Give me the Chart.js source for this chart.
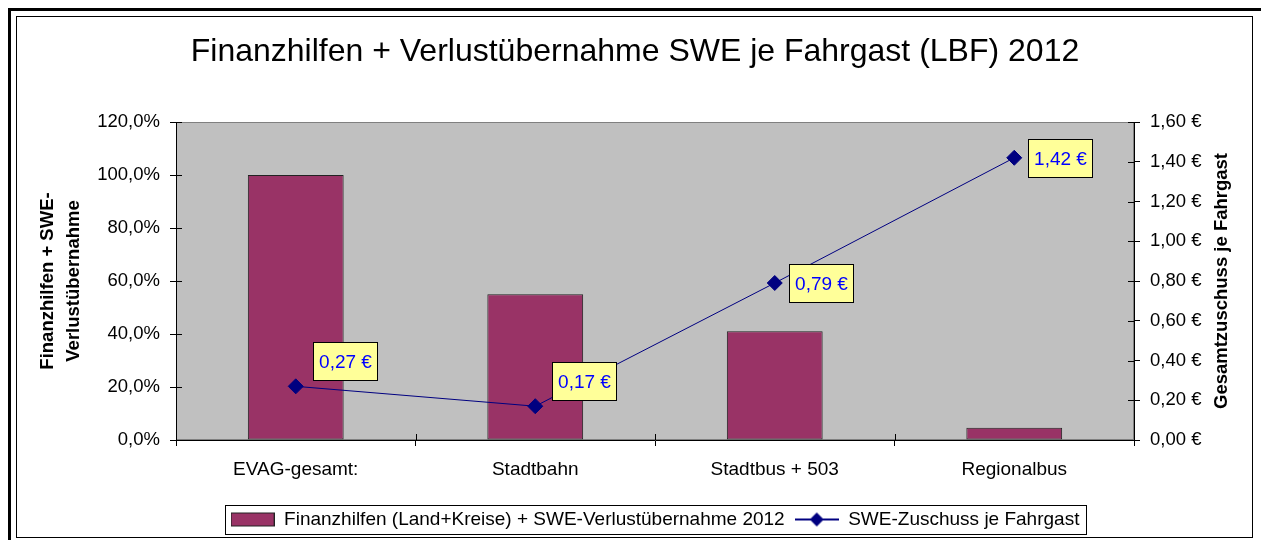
<!DOCTYPE html>
<html>
<head>
<meta charset="utf-8">
<script src="https://cdn.jsdelivr.net/npm/chart.js@4"></script>
<style>
html, body { margin: 0; padding: 0; background: #fff; }
#wrap { position: relative; width: 1261px; height: 540px; overflow: hidden; }
#chart { position: absolute; left: 0; top: 0; }
.frame-outer { position: absolute; left: 8px; top: 8px; width: 1300px; height: 600px; border-left: 3px solid #000; border-top: 3px solid #000; pointer-events: none; }
.frame-inner { position: absolute; left: 16px; top: 16px; width: 1235px; height: 520px; border: 1px solid #000; pointer-events: none; }
</style>
</head>
<body>
<div id="wrap">
    <canvas id="chart" width="1261" height="540"></canvas>
    <div class="frame-outer"></div>
    <div class="frame-inner"></div>
</div>
<script>
// --- data ---
const categories = ['EVAG-gesamt:', 'Stadtbahn', 'Stadtbus + 503', 'Regionalbus'];
const finanzhilfen = [100, 55, 41, 4.6];          // % (left axis)
const zuschuss = [0.27, 0.17, 0.79, 1.42];        // € je Fahrgast (right axis)

const FONT = '"Liberation Sans", Arial, sans-serif';
const barColor = '#993366';
const lineColor = '#000080';

const fmtPct = v => v.toFixed(1).replace('.', ',') + '%';
const fmtEuro = v => v.toFixed(2).replace('.', ',') + ' €';

// legend swatches
function barSwatch() {
    const c = document.createElement('canvas');
    c.width = 44; c.height = 16;
    const g = c.getContext('2d');
    g.fillStyle = barColor;
    g.fillRect(0.5, 1.5, 43, 13);
    g.strokeStyle = '#222';
    g.strokeRect(0.5, 1.5, 43, 13);
    return c;
}
function lineSwatch() {
    const c = document.createElement('canvas');
    c.width = 44; c.height = 16;
    const g = c.getContext('2d');
    g.strokeStyle = lineColor;
    g.lineWidth = 2;
    g.beginPath(); g.moveTo(0, 8); g.lineTo(44, 8); g.stroke();
    g.fillStyle = lineColor;
    g.beginPath(); g.moveTo(22, 1); g.lineTo(29, 8); g.lineTo(22, 15); g.lineTo(15, 8); g.closePath(); g.fill();
    return c;
}
const swatches = [barSwatch(), lineSwatch()];

// grey plot area + inner tick marks
const plotBackground = {
    id: 'plotBackground',
    beforeDraw(chart) {
        const { ctx, chartArea: a } = chart;
        ctx.save();
        ctx.fillStyle = '#c0c0c0';
        ctx.fillRect(a.left, a.top, a.width, a.height);
        ctx.strokeStyle = '#808080';
        ctx.lineWidth = 1;
        ctx.strokeRect(a.left + 0.5, a.top + 0.5, a.width - 1, a.height - 1);
        ctx.restore();
    },
    beforeDatasetsDraw(chart) {
        const { ctx, chartArea: a, scales } = chart;
        ctx.save();
        ctx.strokeStyle = '#000';
        ctx.lineWidth = 1;
        ctx.beginPath();
        scales.y.ticks.forEach((t, i) => {
            const y = Math.round(scales.y.getPixelForTick(i)) + 0.5;
            ctx.moveTo(a.left, y); ctx.lineTo(a.left + 6, y);
        });
        scales.y1.ticks.forEach((t, i) => {
            const y = Math.round(scales.y1.getPixelForTick(i)) + 0.5;
            ctx.moveTo(a.right - 6, y); ctx.lineTo(a.right, y);
        });
        for (let i = 1; i < categories.length; i++) {
            const x = Math.round((scales.x.getPixelForTick(i - 1) + scales.x.getPixelForTick(i)) / 2) + 0.5;
            ctx.moveTo(x, a.bottom - 6); ctx.lineTo(x, a.bottom);
        }
        ctx.stroke();
        ctx.restore();
    }
};

// yellow value boxes on the line
const labelPlacement = ['above', 'above', 'right', 'right'];
const valueBoxes = {
    id: 'valueBoxes',
    afterDatasetsDraw(chart) {
        const { ctx } = chart;
        const meta = chart.getDatasetMeta(1);
        const values = chart.data.datasets[1].data;
        ctx.save();
        ctx.font = '19px ' + FONT;
        meta.data.forEach((pt, i) => {
            const text = fmtEuro(values[i]);
            const w = Math.round(ctx.measureText(text).width) + 11;
            const h = 38;
            let left, top;
            if (labelPlacement[i] === 'above') {
                left = pt.x + 17; top = pt.y - 6 - h;
            } else {
                left = pt.x + 14; top = pt.y - h / 2;
            }
            left = Math.round(left) + 0.5; top = Math.round(top) + 0.5;
            ctx.fillStyle = '#ffff99';
            ctx.fillRect(left, top, w, h);
            ctx.strokeStyle = '#000';
            ctx.lineWidth = 1;
            ctx.strokeRect(left, top, w, h);
            ctx.fillStyle = '#0000ff';
            ctx.textAlign = 'center';
            ctx.textBaseline = 'middle';
            ctx.fillText(text, left + w / 2, top + h / 2 + 1);
        });
        ctx.restore();
    },
    afterDraw(chart) {
        const { ctx, chartArea: a } = chart;
        ctx.save();
        // right axis title, reading bottom to top
        ctx.font = 'bold 18.5px ' + FONT;
        ctx.fillStyle = '#000';
        ctx.textAlign = 'center';
        ctx.textBaseline = 'middle';
        ctx.translate(1222, (a.top + a.bottom) / 2);
        ctx.rotate(-Math.PI / 2);
        ctx.fillText('Gesamtzuschuss je Fahrgast', 0, 0);
        ctx.restore();

        // frame round the legend
        const boxes = chart.legend.legendHitBoxes;
        if (boxes && boxes.length) {
            const l = Math.min(...boxes.map(b => b.left)) - 6;
            const r = Math.max(...boxes.map(b => b.left + b.width)) + 6;
            const t = Math.min(...boxes.map(b => b.top)) - 5;
            const btm = Math.max(...boxes.map(b => b.top + b.height)) + 5;
            ctx.save();
            ctx.strokeStyle = '#000';
            ctx.lineWidth = 1;
            ctx.strokeRect(Math.round(l) + 0.5, Math.round(t) + 0.5, Math.round(r - l), Math.round(btm - t));
            ctx.restore();
        }
    }
};

Chart.defaults.font.family = FONT;
Chart.defaults.color = '#000';

new Chart(document.getElementById('chart').getContext('2d'), {
    type: 'bar',
    data: {
        labels: categories,
        datasets: [{
            type: 'bar',
            label: 'Finanzhilfen (Land+Kreise) + SWE-Verlustübernahme 2012',
            data: finanzhilfen,
            backgroundColor: barColor,
            borderColor: '#222',
            borderWidth: 1,
            borderSkipped: false,
            barPercentage: 0.4,
            categoryPercentage: 1,
            yAxisID: 'y',
            order: 1
        }, {
            type: 'line',
            label: 'SWE-Zuschuss je Fahrgast',
            data: zuschuss,
            borderColor: lineColor,
            borderWidth: 1,
            backgroundColor: lineColor,
            pointStyle: 'rectRot',
            pointRadius: 7.5,
            pointHoverRadius: 7.5,
            pointBackgroundColor: lineColor,
            pointBorderColor: lineColor,
            tension: 0,
            fill: false,
            yAxisID: 'y1',
            order: 0
        }]
    },
    options: {
        responsive: false,
        animation: false,
        events: [],
        layout: { padding: { left: 9, right: 0, top: 0, bottom: 1 } },
        plugins: {
            tooltip: { enabled: false },
            title: {
                display: true,
                text: 'Finanzhilfen + Verlustübernahme SWE je Fahrgast (LBF) 2012',
                font: { size: 32, weight: 'normal' },
                color: '#000',
                padding: { top: 33, bottom: 50.6 }
            },
            legend: {
                position: 'bottom',
                fullSize: false,
                labels: {
                    usePointStyle: true,
                    pointStyleWidth: 44,
                    font: { size: 19 },
                    color: '#000',
                    padding: 10,
                    sort: (a, b) => a.datasetIndex - b.datasetIndex,
                    generateLabels(chart) {
                        const items = Chart.defaults.plugins.legend.labels.generateLabels(chart);
                        items.forEach(it => { it.pointStyle = swatches[it.datasetIndex]; });
                        return items;
                    }
                }
            }
        },
        scales: {
            x: {
                grid: { display: true, drawOnChartArea: false, offset: true, color: '#000', tickLength: 6 },
                border: { display: true, color: '#000' },
                ticks: { color: '#000', font: { size: 19 }, padding: 12, maxRotation: 0 },
                afterFit(s) { s.height = 60; }
            },
            y: {
                position: 'left',
                min: 0,
                max: 120,
                grid: { drawOnChartArea: false, color: '#000', tickLength: 6 },
                border: { display: true, color: '#000' },
                ticks: { stepSize: 20, color: '#000', font: { size: 18.5 }, padding: 10, callback: v => fmtPct(v) },
                title: {
                    display: true,
                    text: ['Finanzhilfen + SWE-', 'Verlustübernahme'],
                    color: '#000',
                    font: { size: 18.5, weight: 'bold', lineHeight: 1.4 },
                    padding: { top: 26, bottom: 0 }
                },
                afterFit(s) { s.width = 167; }
            },
            y1: {
                position: 'right',
                min: 0,
                max: 1.6,
                grid: { drawOnChartArea: false, color: '#000', tickLength: 6 },
                border: { display: true, color: '#000' },
                ticks: { stepSize: 0.2, color: '#000', font: { size: 18.5 }, padding: 10, callback: v => fmtEuro(v) },
                afterFit(s) { s.width = 127; }
            }
        }
    },
    plugins: [plotBackground, valueBoxes]
});
</script>
</body>
</html>
